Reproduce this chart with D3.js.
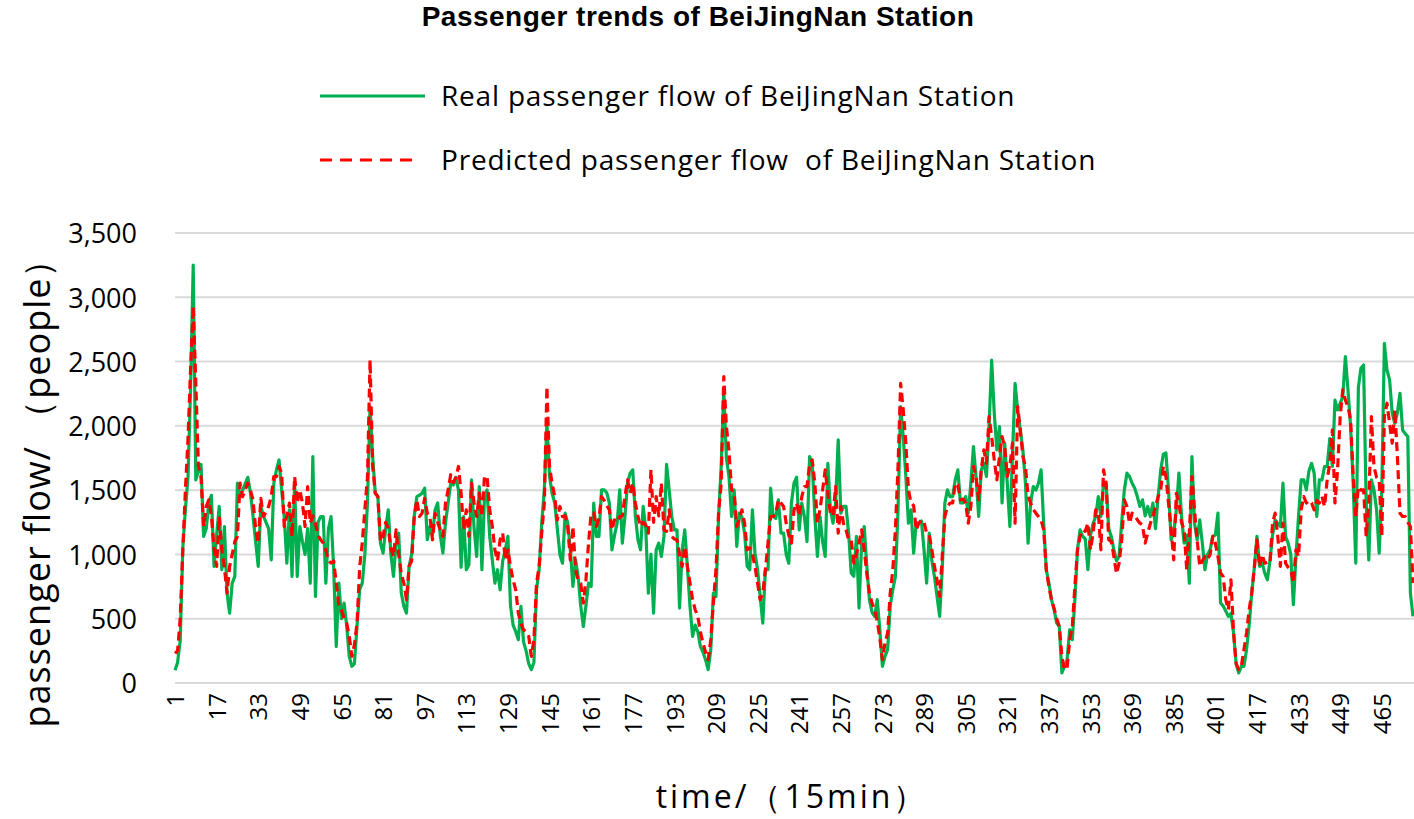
<!DOCTYPE html>
<html><head><meta charset="utf-8">
<script src="https://cdn.jsdelivr.net/npm/d3@7"></script>
<style>body{margin:0;background:#fff}svg{display:block}</style>
</head><body>
<svg id="chart" width="1414" height="819"></svg>
<script>
const chartTitle = "Passenger trends of BeiJingNan Station";
const seriesNames = ["Real passenger flow of BeiJingNan Station", "Predicted passenger flow  of BeiJingNan Station"];
const seriesColors = ["#00B050", "#FF0000"];
const xAxisTitle = "time/（15min）";
const yAxisTitle = "passenger flow/ （people）";
const xTickLabels = [1,17,33,49,65,81,97,113,129,145,161,177,193,209,225,241,257,273,289,305,321,337,353,369,385,401,417,433,449,465];
const yTickValues = [0,500,1000,1500,2000,2500,3000,3500];

const realFlow = [
100,160,330,1050,1350,1600,2300,3250,1580,1650,
1700,1140,1200,1400,1460,907,1150,1373,881,1217,
700,544,777,829,1554,1450,1500,1550,1600,1480,
1300,1100,907,1373,1300,1250,1200,958,1554,1657,
1735,1500,1295,932,1347,829,1554,829,1217,1100,
1000,1200,777,1761,673,1250,1295,1295,777,1200,
1295,900,285,777,500,622,450,207,130,150,
450,725,777,1000,1400,2150,1761,1476,1450,1088,
1010,1200,1347,1000,829,1088,1165,700,596,544,
907,1000,1300,1450,1460,1476,1515,1114,1217,1150,
1347,1400,1150,1010,1243,1400,1554,1540,1600,1500,
900,1295,881,920,1580,1200,984,1528,881,1450,
1502,1140,958,777,881,725,950,1036,1140,600,
450,400,337,596,320,250,150,104,160,725,
881,1243,1502,2020,1606,1476,1400,1200,1000,932,
1321,1243,1036,751,958,829,600,440,600,777,
751,1400,1140,1140,1502,1502,1480,1400,1036,1150,
1243,1502,1088,1295,1554,1632,1658,1300,1114,1036,
1373,1200,699,1000,544,1036,1088,984,1140,1700,
1502,1295,1191,1191,583,1036,1191,907,600,363,
450,400,285,240,180,104,259,699,673,1300,
1684,2280,1750,1606,1295,1502,1062,1321,1290,1165,
907,881,1347,1010,881,673,466,881,881,1515,
1295,1280,1425,1165,1165,1000,932,1400,1554,1600,
1191,1400,1295,1100,1761,1709,1295,984,1295,1100,
984,1709,1347,1243,1400,1891,1321,1373,1373,1165,
855,830,1140,583,1088,1217,907,648,550,518,
648,414,130,207,259,600,725,829,1347,2150,
1917,1606,1243,1347,1010,1243,1243,1260,1036,777,
1165,950,829,673,518,881,1400,1502,1450,1450,
1580,1658,1400,1400,1450,1321,1554,1839,1606,1295,
1658,1709,1606,2000,2512,2098,1813,1994,1400,1865,
1554,1217,1761,2331,2124,1968,1813,1554,1088,1400,
1528,1500,1554,1658,1243,881,777,648,570,466,
440,78,130,181,414,337,648,1036,1191,1140,
1120,881,1150,1240,1295,1450,1295,1554,1554,1200,
1140,1036,950,984,1250,1500,1632,1606,1554,1515,
1450,1373,1425,1300,1373,1295,1400,1200,1450,1658,
1780,1790,1502,1114,1165,1347,1632,1295,1088,1150,
777,1761,1243,1114,1269,1088,881,1000,1036,1140,
1150,1321,622,600,560,518,540,389,150,78,
130,130,259,450,700,900,1140,907,932,855,
803,950,1150,1269,1240,1217,1554,1140,1088,1000,
609,984,1300,1580,1580,1502,1650,1709,1632,1295,
1580,1580,1684,1684,1900,1684,2200,2124,2176,2227,
2538,2280,2000,1554,932,2300,2450,2473,1400,958,
1580,1502,1347,1010,1500,2642,2435,2357,2100,2020,
2100,2253,1968,1940,1917,700,518
];

const predictedFlow = [
230,250,500,1036,1500,1900,2450,2930,2331,1684,
1600,1217,1373,1425,1300,1050,907,1295,1036,900,
699,907,1000,1100,1140,1554,1450,1502,1554,1500,
1425,1200,1088,1437,1295,1330,1373,1450,1606,1606,
1684,1632,1217,1300,1400,1140,1606,1400,1502,1400,
1217,1528,1243,1300,1243,1150,1114,1088,1036,950,
932,950,777,600,570,500,466,363,207,300,
466,900,1088,1350,1600,2512,1684,1476,1450,1100,
1140,1250,1200,1050,984,1191,1000,850,777,648,
907,950,1300,1425,1295,1320,1437,1320,1295,1114,
1320,1250,1191,1140,1400,1500,1620,1560,1600,1684,
1476,1191,1347,1140,1554,1400,1295,1476,1295,1606,
1606,1347,1217,1036,950,1114,1165,958,1036,907,
800,725,544,466,414,400,363,207,337,777,
907,1165,1400,2305,1684,1554,1450,1269,1373,1295,
1300,1217,958,1217,881,800,777,622,800,1088,
1321,1321,1217,1280,1450,1420,1380,1347,1191,1269,
1250,1295,1300,1450,1580,1476,1554,1400,1295,1217,
1250,1230,1165,1658,1250,1450,1300,1554,1191,1180,
1347,1140,1120,1114,1000,907,1062,907,780,650,
570,518,400,310,240,181,337,622,881,1321,
1554,2383,2000,1800,1502,1476,1217,1280,1347,1243,
1036,1050,1000,907,777,648,700,881,1088,1295,
1295,1320,1425,1400,1373,1243,1150,1088,1347,1400,
1300,1450,1528,1528,1700,1735,1554,1243,1350,1500,
1658,1476,1321,1300,1528,1165,1373,1243,1191,1114,
1114,932,1000,1088,1191,1036,850,700,622,570,
480,350,181,311,389,700,881,1200,1684,2331,
2124,1865,1502,1400,1380,1191,1243,1269,1250,1165,
1150,1036,907,800,673,984,1295,1373,1400,1400,
1554,1540,1425,1430,1400,1243,1373,1684,1606,1425,
1658,1813,1709,2072,1917,1735,1580,1761,1917,1839,
1606,1684,1865,1243,2150,1968,1761,1684,1450,1400,
1350,1321,1295,1270,1191,881,751,648,580,500,
440,207,104,117,337,440,751,1036,1140,1191,
1180,1243,1036,1165,1347,1330,1036,1658,1554,1114,
1100,984,850,932,1114,1425,1373,1243,1321,1300,
1270,1243,1230,1088,1165,1240,1295,1373,1450,1502,
1684,1606,1400,1200,958,1476,1400,1250,1191,881,
1165,1606,1347,1114,907,950,984,960,1000,1140,
1088,984,855,829,648,570,803,400,150,104,
130,259,389,570,700,900,1114,907,1000,932,
940,932,1243,1321,1140,907,1243,932,900,881,
777,1036,984,1347,1450,1400,1420,1400,1347,1420,
1400,1450,1373,1580,1709,1968,1400,1658,2072,2280,
2200,2150,2046,1606,1295,1528,1500,1502,1140,1400,
2072,1684,1600,1580,1140,2072,2176,2020,1865,2124,
1761,1321,1295,1295,1250,1217,777
];

const timeIndex = realFlow.map((_, i) => i + 1);

const svg = d3.select("#chart");
const font = "'Open Sans', 'Noto Sans', sans-serif";

const x = d3.scalePoint().domain(timeIndex).range([175, 1413]);
const y = d3.scaleLinear().domain([0, 3500]).range([683, 233]);

// gridlines
svg.append("g").selectAll("line").data(yTickValues).join("line")
  .attr("x1", 175).attr("x2", 1414)
  .attr("y1", d => y(d)).attr("y2", d => y(d))
  .attr("stroke", "#D9D9D9").attr("stroke-width", 2);

// y axis labels
const yAxis = svg.append("g").attr("transform", "translate(140,0)")
  .call(d3.axisLeft(y).tickValues(yTickValues).tickFormat(d3.format(",")).tickSize(0).tickPadding(3));
yAxis.select(".domain").remove();
yAxis.selectAll("text").attr("font-family", font).attr("font-size", 27).attr("fill", "#000").attr("dy", "0.36em");

// x axis labels
const xAxis = svg.append("g").attr("transform", "translate(0,690)")
  .call(d3.axisBottom(x).tickValues(xTickLabels).tickSize(0));
xAxis.select(".domain").remove();
xAxis.selectAll("text")
  .attr("font-family", font).attr("font-size", 24).attr("fill", "#000")
  .attr("transform", "rotate(-90)")
  .attr("x", -3).attr("y", 0).attr("dy", "0.36em")
  .style("text-anchor", "end");

// lines
const line = vals => d3.line().x((d, i) => x(timeIndex[i])).y(d => y(d))(vals);
svg.append("path").attr("d", line(realFlow))
  .attr("fill", "none").attr("stroke", seriesColors[0]).attr("stroke-width", 3.2)
  .attr("stroke-linejoin", "round");
svg.append("path").attr("d", line(predictedFlow))
  .attr("fill", "none").attr("stroke", seriesColors[1]).attr("stroke-width", 3.2)
  .attr("stroke-dasharray", "9,5").attr("stroke-linejoin", "round");

// title
svg.append("text").attr("x", 698).attr("y", 26).attr("text-anchor", "middle")
  .attr("font-family", "'Liberation Sans', Arial, sans-serif").attr("font-weight", 700).attr("font-size", 28)
  .attr("letter-spacing", 0.5)
  .text(chartTitle);

// legend
const legendY = [96, 160];
const legend = svg.append("g");
seriesNames.forEach((name, k) => {
  legend.append("line").attr("x1", 320).attr("x2", k === 0 ? 425 : 420)
    .attr("y1", legendY[k]).attr("y2", legendY[k])
    .attr("stroke", seriesColors[k]).attr("stroke-width", 3)
    .attr("stroke-dasharray", k === 0 ? null : "12,8");
  legend.append("text").attr("x", 441).attr("y", legendY[k] + 10)
    .attr("font-family", font).attr("font-size", 28).attr("fill", "#000")
    .attr("letter-spacing", 0.8)
    .style("white-space", "pre").attr("xml:space", "preserve")
    .text(name);
});

// axis titles
svg.append("text").attr("transform", "translate(50,484) rotate(-90)")
  .attr("text-anchor", "middle").attr("font-family", font).attr("font-size", 36)
  .attr("letter-spacing", 1).attr("fill", "#000").text(yAxisTitle);
svg.append("text").attr("x", 792).attr("y", 808).attr("text-anchor", "middle")
  .attr("font-family", font).attr("font-size", 32).attr("letter-spacing", 3)
  .attr("fill", "#000").text(xAxisTitle);
</script>
</body></html>
